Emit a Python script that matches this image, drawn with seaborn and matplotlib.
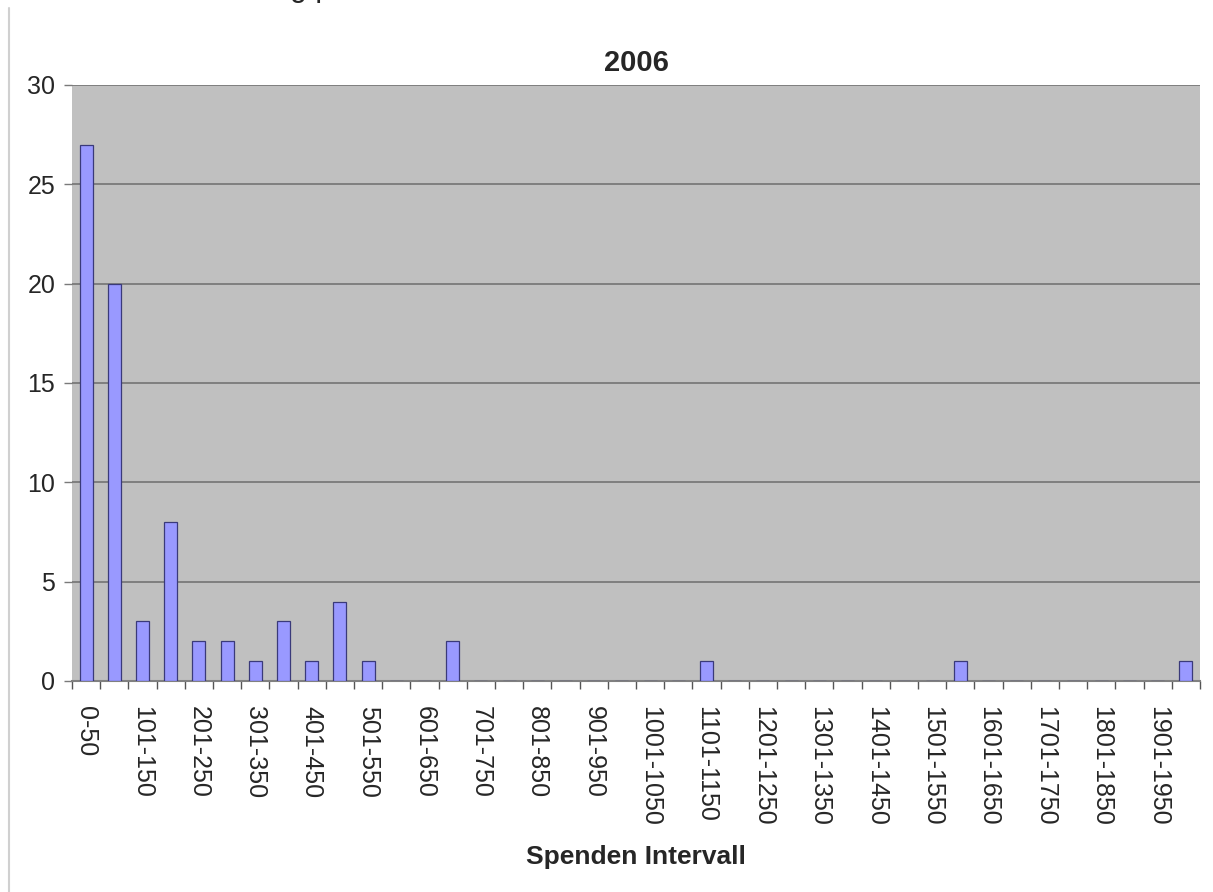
import matplotlib
matplotlib.use("Agg")
import matplotlib.pyplot as plt
import seaborn as sns
import pandas as pd
from matplotlib.lines import Line2D

# donation intervals (50 wide) and how many donations fell in each, 2006
lower = list(range(0, 2000, 50))
intervals = ["0-50"] + [f"{lo + 1}-{lo + 50}" for lo in lower[1:]]
counts = [27, 20, 3, 8, 2, 2, 1, 3, 1, 4,
          1, 0, 0, 2, 0, 0, 0, 0, 0, 0,
          0, 0, 1, 0, 0, 0, 0, 0, 0, 0,
          0, 1, 0, 0, 0, 0, 0, 0, 0, 1]
yticks = [0, 5, 10, 15, 20, 25, 30]

df = pd.DataFrame({"Intervall": intervals, "Anzahl": counts})

sns.set_theme(style="white")
plt.rcParams["font.family"] = ["Liberation Sans", "DejaVu Sans"]

fig = plt.figure(figsize=(12.13, 8.92), dpi=100)
ax = fig.add_axes([0.0594, 0.2366, 0.9324 - 0.0594 + 0.0, 0.9047 - 0.2366])
ax.set_position([72 / 1213, 1 - 681 / 892, (1200 - 72) / 1213, (681 - 85) / 892])

sns.barplot(data=df, x="Intervall", y="Anzahl", color="#9999FF", saturation=1,
            width=0.46, edgecolor="#3a3a7a", linewidth=0.9, ax=ax, zorder=3)

ax.set_facecolor("#C0C0C0")
ax.set_ylim(0, 30)
ax.set_xlim(-0.5, len(intervals) - 0.5)
ax.set_yticks(yticks)
ax.yaxis.grid(True, color="#7a7a7a", linewidth=1.3, zorder=0)
ax.set_axisbelow(True)
for side in ["left", "right", "top"]:
    ax.spines[side].set_visible(False)
ax.spines["bottom"].set_color("#808080")
ax.spines["bottom"].set_linewidth(1.5)

# labels on every second interval, ticks between intervals
ax.set_xticks(range(0, len(intervals), 2))
ax.set_xticklabels(intervals[::2], rotation=270, fontsize=18)
ax.set_xticks([i - 0.5 for i in range(len(intervals) + 1)], minor=True)
ax.tick_params(axis="x", which="major", length=0, pad=18)
ax.tick_params(axis="x", which="minor", length=6, width=1, color="#555555", bottom=True)
ax.tick_params(axis="y", length=6, width=1, color="#7a7a7a", left=True, labelsize=18, pad=6)

ax.set_title("2006", fontsize=21, fontweight="bold", pad=10)
ax.set_xlabel("Spenden Intervall", fontsize=19, fontweight="bold", labelpad=14)
ax.set_ylabel("")

# thin grey frame line on the left of the page and cut-off caption above
fig.add_artist(Line2D([8.5 / 1213, 8.5 / 1213], [0, 1 - 8 / 892],
                      transform=fig.transFigure, color="#d0d0d0", linewidth=1.5))
fig.text(290 / 1213, 1 + 4 / 892, "g p", fontsize=22, va="baseline")

fig.savefig("out.png", dpi=100)
